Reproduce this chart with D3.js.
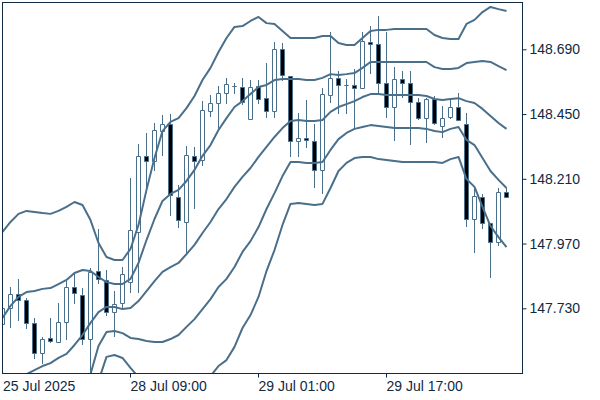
<!DOCTYPE html>
<html><head><meta charset="utf-8">
<script src="https://cdn.jsdelivr.net/npm/d3@7"></script>
<style>html,body{margin:0;padding:0;background:#fff;}svg{display:block;}</style>
</head><body>
<svg id="chart" width="600" height="400"></svg>
<script>
// Hourly candles, first bar 25 Jul 2025 17:00 (weekend skipped)
const openP  = [147.672,147.731,147.783,147.761,147.676,147.564,147.620,147.605,147.679,147.809,147.779,147.616,147.868,147.835,147.716,147.750,147.827,148.013,148.295,148.276,148.387,148.413,148.143,148.050,148.295,148.280,148.461,148.491,148.528,148.554,148.550,148.432,148.554,148.509,148.461,148.691,148.591,148.350,148.361,148.350,148.243,148.521,148.584,148.558,148.558,148.547,148.717,148.710,148.565,148.476,148.580,148.565,148.495,148.435,148.506,148.406,148.439,148.476,148.413,148.061,148.143,148.046,147.976,148.161];
const highP  = [147.739,147.809,147.839,147.768,147.694,147.624,147.694,147.750,147.831,147.865,147.805,147.879,148.024,147.872,147.794,147.883,148.213,148.339,148.380,148.417,148.446,148.450,148.187,148.332,148.328,148.498,148.521,148.554,148.584,148.565,148.584,148.576,148.576,148.639,148.717,148.713,148.591,148.454,148.502,148.413,148.547,148.754,148.610,148.580,148.617,148.754,148.776,148.813,148.754,148.624,148.610,148.610,148.509,148.509,148.517,148.480,148.502,148.528,148.454,148.183,148.154,148.046,148.176,148.176];
const lowP   = [147.664,147.661,147.687,147.657,147.546,147.527,147.605,147.605,147.616,147.750,147.598,147.494,147.824,147.705,147.627,147.735,147.790,147.790,148.161,148.243,148.298,148.076,148.031,147.935,148.102,148.261,148.443,148.398,148.491,148.528,148.487,148.432,148.491,148.439,148.439,148.576,148.295,148.295,148.328,148.180,148.157,148.495,148.454,148.454,148.398,148.547,148.602,148.528,148.439,148.354,148.513,148.339,148.432,148.346,148.413,148.365,148.435,148.428,148.035,147.939,148.028,147.846,147.965,148.143];
const closeP = [147.731,147.783,147.761,147.676,147.564,147.616,147.609,147.679,147.809,147.787,147.616,147.865,147.839,147.716,147.746,147.857,148.020,148.295,148.276,148.391,148.413,148.150,148.057,148.298,148.276,148.465,148.491,148.528,148.561,148.554,148.495,148.550,148.506,148.461,148.691,148.595,148.350,148.361,148.354,148.243,148.524,148.584,148.558,148.558,148.547,148.721,148.710,148.565,148.476,148.580,148.565,148.495,148.435,148.506,148.417,148.435,148.476,148.428,148.061,148.146,148.046,147.976,148.161,148.143];

// Bollinger-style envelope lines (upper 2, upper 1, middle, lower 1, lower 2)
const bandUpper2 = [148.013,148.050,148.080,148.091,148.087,148.083,148.080,148.091,148.106,148.124,148.113,148.057,147.972,147.920,147.909,147.909,147.950,148.039,148.169,148.287,148.387,148.421,148.435,148.472,148.517,148.576,148.621,148.680,148.732,148.773,148.776,148.795,148.810,148.787,148.784,148.758,148.732,148.732,148.732,148.732,148.739,148.739,148.713,148.706,148.706,148.732,148.758,148.762,148.762,148.765,148.765,148.765,148.765,148.765,148.743,148.732,148.728,148.728,148.784,148.799,148.828,148.847,148.839,148.832];
const bandUpper1 = [147.694,147.739,147.772,147.790,147.794,147.802,147.805,147.820,147.835,147.861,147.872,147.868,147.846,147.827,147.820,147.820,147.839,147.898,147.983,148.061,148.128,148.154,148.169,148.202,148.243,148.295,148.335,148.391,148.435,148.476,148.498,148.524,148.550,148.558,148.576,148.580,148.580,148.580,148.576,148.576,148.584,148.598,148.595,148.598,148.602,148.621,148.643,148.643,148.643,148.643,148.643,148.643,148.643,148.643,148.624,148.617,148.617,148.621,148.639,148.643,148.647,148.643,148.628,148.613];
const bandMiddle = [147.375,147.427,147.464,147.486,147.501,147.516,147.527,147.546,147.561,147.594,147.631,147.676,147.716,147.735,147.735,147.727,147.731,147.757,147.794,147.831,147.865,147.883,147.898,147.931,147.965,148.009,148.050,148.098,148.135,148.180,148.217,148.250,148.291,148.328,148.365,148.398,148.424,148.428,148.424,148.424,148.428,148.458,148.476,148.487,148.498,148.513,148.524,148.524,148.521,148.521,148.521,148.521,148.521,148.517,148.506,148.502,148.506,148.509,148.498,148.491,148.469,148.443,148.417,148.395];
const bandLower1 = [147.057,147.116,147.157,147.186,147.209,147.234,147.253,147.275,147.290,147.331,147.390,147.486,147.590,147.642,147.646,147.638,147.620,147.616,147.609,147.605,147.605,147.616,147.631,147.661,147.690,147.727,147.764,147.809,147.839,147.883,147.939,147.979,148.031,148.098,148.157,148.220,148.272,148.272,148.269,148.269,148.272,148.317,148.357,148.380,148.395,148.402,148.409,148.406,148.402,148.398,148.398,148.398,148.398,148.395,148.387,148.383,148.395,148.402,148.354,148.335,148.287,148.239,148.206,148.176];
const bandLower2 = [146.738,146.805,146.849,146.886,146.916,146.949,146.975,147.001,147.016,147.064,147.149,147.294,147.461,147.550,147.557,147.546,147.509,147.475,147.420,147.375,147.342,147.346,147.360,147.390,147.412,147.442,147.479,147.516,147.538,147.587,147.657,147.705,147.772,147.868,147.946,148.039,148.117,148.120,148.117,148.113,148.117,148.176,148.239,148.269,148.287,148.291,148.291,148.283,148.280,148.276,148.272,148.272,148.272,148.272,148.272,148.269,148.283,148.291,148.209,148.180,148.106,148.035,147.994,147.957];

const yTicks = [147.730, 147.970, 148.210, 148.450, 148.690];
const firstDateLabel = "25 Jul 2025";
const xTickIndex = [16, 32, 48];
const xTickLabels = ["28 Jul 09:00", "29 Jul 01:00", "29 Jul 17:00"];

const LINE = "#4a6f8a";
const AXIS = "#0f2a42";
const FONT = "'Liberation Sans', Arial, sans-serif";

const svg = d3.select("#chart");
const plot = {l: 2.5, t: 2.5, r: 522.5, b: 373.5};

const x = d3.scaleLinear().domain([0, openP.length - 1]).range([2.5, 506.5]);
const y = d3.scaleLinear().domain([147.73, 148.69]).range([308.3, 49.3]);

svg.append("defs").append("clipPath").attr("id", "clip")
  .append("rect").attr("x", plot.l).attr("y", plot.t)
  .attr("width", plot.r - plot.l).attr("height", plot.b - plot.t);

const candles = openP.map((o, i) => ({i, o, h: highP[i], l: lowP[i], c: closeP[i]}));

const g = svg.append("g").attr("clip-path", "url(#clip)");

// wicks
g.selectAll("line.wick").data(candles).join("line")
  .attr("class", "wick")
  .attr("x1", d => x(d.i)).attr("x2", d => x(d.i))
  .attr("y1", d => Math.round(y(d.h)))
  .attr("y2", d => Math.round(y(d.l)) + 1)
  .attr("stroke", LINE).attr("stroke-width", 1);

// bodies
g.selectAll("path.body").data(candles).join("path")
  .attr("class", "body")
  .attr("d", d => {
    const top = Math.round(y(Math.max(d.o, d.c))) + 0.5;
    const bot = Math.round(y(Math.min(d.o, d.c))) + 0.5;
    const x0 = x(d.i) - 2;
    return `M${x0},${top}H${x0 + 4}V${bot}H${x0}Z`;
  })
  .attr("fill", d => d.c >= d.o ? "#ffffff" : "#000000")
  .attr("stroke", LINE).attr("stroke-width", 1);

// band lines
const lineGen = d3.line().x((d, i) => x(i)).y(d => y(d));
[bandUpper2, bandUpper1, bandMiddle, bandLower1, bandLower2].forEach(arr => {
  g.append("path").datum(arr)
    .attr("d", lineGen)
    .attr("fill", "none")
    .attr("stroke", LINE)
    .attr("stroke-width", 2)
    .attr("stroke-linejoin", "round");
});

// frame
svg.append("rect").attr("x", plot.l).attr("y", plot.t)
  .attr("width", plot.r - plot.l).attr("height", plot.b - plot.t)
  .attr("fill", "none").attr("stroke", AXIS).attr("stroke-width", 1);

// y axis (right)
const yAxis = d3.axisRight(y).tickValues(yTicks).tickFormat(d3.format(".3f"))
  .tickSize(4).tickPadding(3);
const ya = svg.append("g").attr("transform", `translate(${plot.r},0)`).call(yAxis);
ya.select(".domain").remove();
ya.selectAll(".tick line").attr("stroke", AXIS);
ya.selectAll(".tick text").attr("fill", AXIS).style("font-family", FONT).style("font-size", "14px");

// x axis labels
const xa = svg.append("g");
xa.append("text").attr("x", 3).attr("y", 391).text(firstDateLabel)
  .attr("fill", AXIS).style("font-family", FONT).style("font-size", "14px");
xa.selectAll("line.xt").data(xTickIndex).join("line")
  .attr("class", "xt")
  .attr("x1", d => x(d)).attr("x2", d => x(d))
  .attr("y1", plot.b).attr("y2", plot.b + 4)
  .attr("stroke", AXIS);
xa.selectAll("text.xl").data(xTickIndex).join("text")
  .attr("class", "xl")
  .attr("x", d => x(d)).attr("y", 391)
  .text((d, i) => xTickLabels[i])
  .attr("fill", AXIS).style("font-family", FONT).style("font-size", "14px");
</script>
</body></html>
